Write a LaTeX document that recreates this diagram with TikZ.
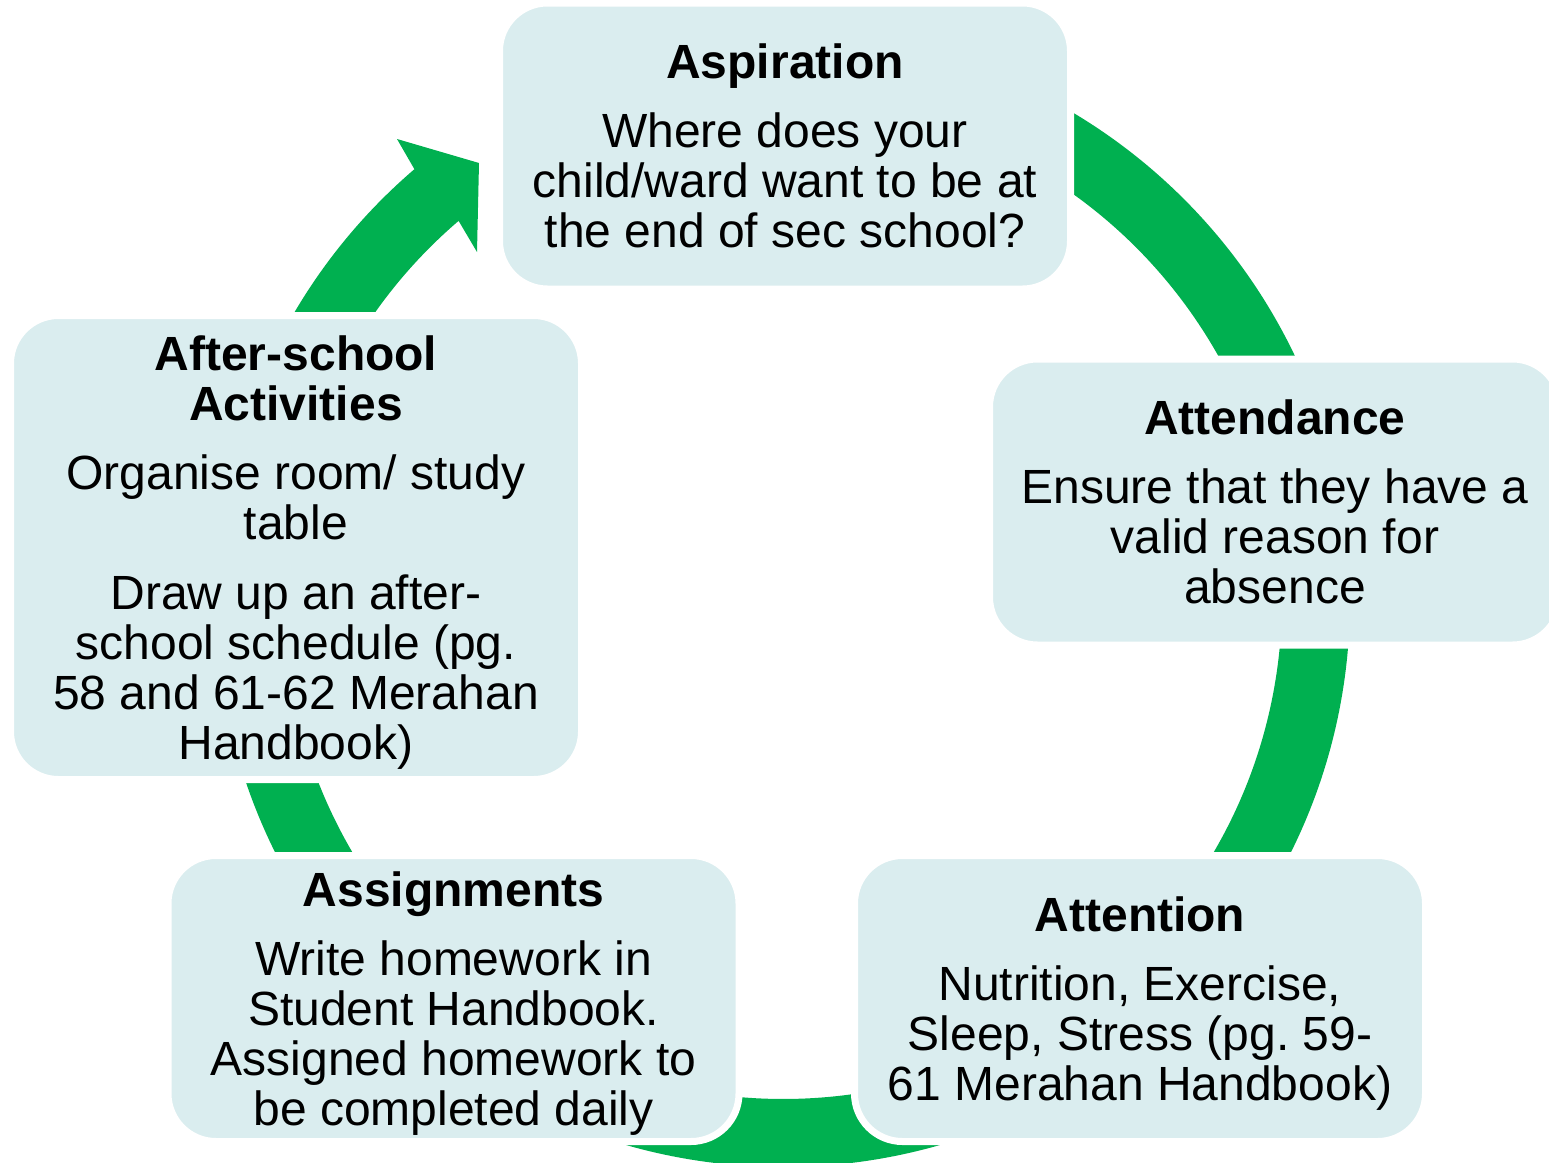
\documentclass[tikz,border=0pt]{standalone}
\usepackage{fontspec}
\setmainfont{Liberation Sans}
\usetikzlibrary{calc}
\definecolor{boxblue}{RGB}{218,237,239}
\definecolor{ringgreen}{RGB}{0,176,80}
\newcommand\flatline[1]{\raisebox{0pt}[\height][0pt]{#1}}
\tikzset{
  stagebox/.style={rectangle,rounded corners=24pt,fill=boxblue,draw=white,line width=3.5pt,
    minimum width=285.5pt,minimum height=143pt,inner sep=0pt,text width=280pt,align=flush center,
    font=\fontsize{24pt}{25pt}\selectfont\frenchspacing},
  tallbox/.style={stagebox,minimum height=232pt}
}
\begin{document}
\begin{tikzpicture}[x=0.5pt,y=-0.5pt]
        \useasboundingbox (0,0) rectangle (1549,1163);

        % green ring behind the stages, head at the top left
        \coordinate (c) at (783,600);
        \coordinate (hb1) at (397,139);
        \coordinate (ht) at (479,163);
        \coordinate (hb2) at (477,252);
        \fill[ringgreen] ($(c)+(-90:567)$) arc[start angle=-90,end angle=229.45,radius=567]
            -- (hb1) -- (ht) -- (hb2) -- ($(c)+(229.45:499)$)
            arc[start angle=229.45,end angle=-90,radius=499] -- cycle;

        \node[stagebox] (aspiration) at (785,146) {\textbf{Aspiration}\\[9.5pt]Where does your\\child/ward want to be at\\the end of sec school?};
        \node[stagebox] (attendance) at (1275,502) {\textbf{Attendance}\\[9.5pt]Ensure that they have a\\valid reason for\\absence};
        \node[stagebox] (attention) at (1140,998.5) {\textbf{Attention}\\[9.5pt]Nutrition, Exercise,\\Sleep, Stress (pg. 59-\\\flatline{61 Merahan Handbook)}};
        \node[stagebox] (assignments) at (453.5,998.5) {\textbf{Assignments}\\[9.5pt]Write homework in\\Student Handbook.\\Assigned homework to\\\flatline{be completed daily}};
        \node[tallbox] (afterschool) at (296,547.5) {\textbf{After-school}\\\textbf{Activities}\\[9.5pt]Organise room/ study\\table\\[10pt]Draw up an after-\\school schedule (pg.\\58 and 61-62 Merahan\\\flatline{Handbook)}};
    \end{tikzpicture}
\end{document}
